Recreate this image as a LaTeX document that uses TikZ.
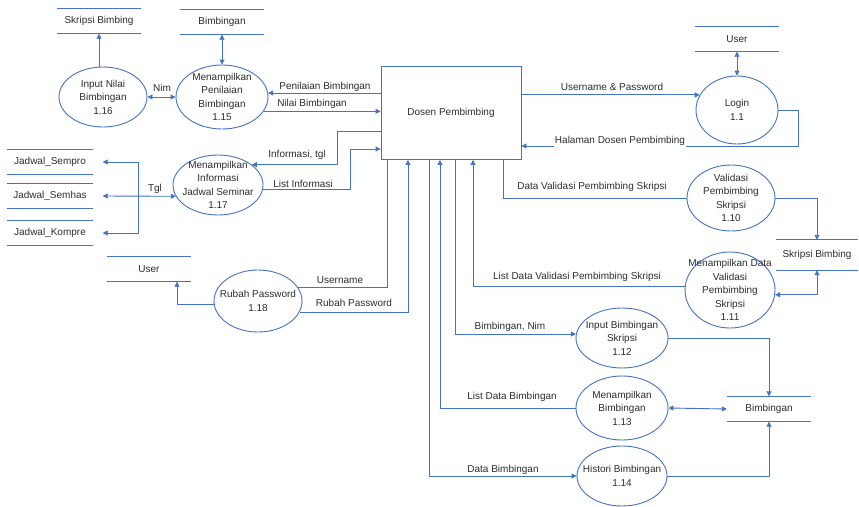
\documentclass[tikz,border=0pt]{standalone}
\usepackage{fontspec}
\setmainfont{Liberation Sans}
\usetikzlibrary{shapes.geometric}
\usetikzlibrary{arrows.meta}
\definecolor{dfdblue}{RGB}{68,114,196}
\definecolor{dfdtext}{RGB}{45,45,45}

\begin{document}
\begin{tikzpicture}[x=1pt, y=-1pt,
    flow/.style={draw=dfdblue, line width=0.9pt},
    arr/.style={flow, -{Triangle[width=5pt,length=5pt]}},
    darr/.style={flow, {Triangle[width=5pt,length=5pt]}-{Triangle[width=5pt,length=5pt]}},
    lbl/.style={font=\fontsize{10}{12}\selectfont, text=dfdtext, inner sep=1pt},
    ptext/.style={font=\fontsize{10}{13.5}\selectfont, text=dfdtext, align=center},
    proc/.style={draw=dfdblue, line width=0.9pt, ellipse, inner sep=0pt},
    store/.style={lbl, minimum width=84pt, minimum height=25pt, inner sep=0pt,
        append after command={(\tikzlastnode.north west) edge[flow] (\tikzlastnode.north east)
                              (\tikzlastnode.south west) edge[flow] (\tikzlastnode.south east)}}]

    \path[use as bounding box, fill=white] (0,0) rectangle (859,506);

    % entity
    \node[flow, lbl, minimum width=140pt, minimum height=93pt] (dosen) at (451,113) {Dosen Pembimbing};

    % data stores
    \node[store] (sSkripsiA) at (99,21) {Skripsi Bimbing};
    \node[store] (sBimA) at (222,22) {Bimbingan};
    \node[store] (sUserA) at (737,39) {User};
    \node[store, minimum width=85pt] (sSempro) at (50,162) {Jadwal\_Sempro};
    \node[store, minimum width=85pt] (sSemhas) at (50,196) {Jadwal\_Semhas};
    \node[store, minimum width=85pt] (sKompre) at (50,233) {Jadwal\_Kompre};
    \node[store] (sUserB) at (149,269) {User};
    \node[store, minimum width=82pt, minimum height=30pt] (sSkripsiB) at (817,255) {Skripsi Bimbing};
    \node[store] (sBimB) at (769,409) {Bimbingan};

    % processes
    \node[proc, minimum width=88pt, minimum height=60pt, label={[ptext]center:Input Nilai\\Bimbingan\\1.16}] (p116) at (103,97) {};
    \node[proc, minimum width=92pt, minimum height=64pt, label={[ptext]center:Menampilkan\\Penilaian\\Bimbingan\\1.15}] (p115) at (222,97) {};
    \node[proc, minimum width=90pt, minimum height=60pt, label={[ptext]center:Menampilkan\\Informasi\\Jadwal Seminar\\1.17}] (p117) at (218,185) {};
    \node[proc, minimum width=88pt, minimum height=62pt, label={[ptext]center:Rubah Password\\1.18}] (p118) at (258,301) {};
    \node[proc, minimum width=82pt, minimum height=68pt, label={[ptext]center:Login\\1.1}] (p11) at (737,110) {};
    \node[proc, minimum width=88pt, minimum height=66pt, label={[ptext]center:Validasi\\Pembimbing\\Skripsi\\1.10}] (p110) at (731,198) {};
    \node[proc, minimum width=90pt, minimum height=76pt, label={[ptext]center:Menampilkan Data\\Validasi\\Pembimbing\\Skripsi\\1.11}] (p111) at (730,290) {};
    \node[proc, minimum width=92pt, minimum height=60pt, label={[ptext]center:Input Bimbingan\\Skripsi\\1.12}] (p112) at (622,338) {};
    \node[proc, minimum width=92pt, minimum height=64pt, label={[ptext]center:Menampilkan\\Bimbingan\\1.13}] (p113) at (622,408) {};
    \node[proc, minimum width=90pt, minimum height=60pt, label={[ptext]center:Histori Bimbingan\\1.14}] (p114) at (622,476) {};

    % left flows
    \draw[darr] (p116.east) -- (p115.west);
    \draw[arr] (sSkripsiA.south |- p116.north) -- (sSkripsiA.south);
    \draw[darr] (sBimA.south) -- (sBimA.south |- p115.north);
    \draw[arr] (dosen.west |- p115.5) -- (p115.5);
    \draw[arr] (p115.-19) -- (dosen.west |- p115.-19);
    \draw[arr] (dosen.west |- 0,131) -- (337,131) |- (p117.31);
    \draw[arr] (p117.-6) -| (350,149) -- (dosen.west |- 0,149);
    \coordinate (tj) at (p117.195 -| 138,0);
    \draw[darr] ([xshift=10pt]sSemhas.east) -- (p117.195);
    \draw[arr] (tj) |- ([xshift=10pt]sSempro.east);
    \draw[arr] (tj) |- ([xshift=10pt]sKompre.east);
    \draw[arr] (p118.184) -| ([xshift=28pt]sUserB.south);
    \draw[flow] (p118.18) -| (dosen.south -| 387,0);
    \draw[arr] (p118.-15) -| (dosen.south -| 408,0);

    % right flows
    \draw[darr] (sUserA.south) -- (p11.north);
    \draw[arr] (dosen.east |- p11.158) -- (p11.158);
    \draw[arr] (p11.east) -| (798,146) -- (dosen.east |- 0,146);
    \draw[flow] (dosen.south -| 503,0) |- (p110.west);
    \draw[arr] (p110.east) -| (sSkripsiB.north);
    \draw[darr] (sSkripsiB.south) |- (p111.-6);
    \draw[arr] (p111.175) -| (dosen.south -| 473,0);
    \draw[arr] (dosen.south -| 455,0) |- (p112.175);
    \draw[arr] (p112.east) -| (sBimB.north);
    \draw[arr] (p113.west) -| (dosen.south -| 440,0);
    \draw[darr] (p113.east) -- (sBimB.west);
    \draw[arr] (dosen.south -| 429,0) |- (p114.west);
    \draw[arr] (p114.east) -| (sBimB.south);

    % flow labels
    \node[lbl] (lNim) at (162,88) {Nim};
    \node[lbl] (lPenilaian) at (325,87) {Penilaian Bimbingan};
    \node[lbl] (lNilai) at (312,104) {Nilai Bimbingan};
    \node[lbl] (lInfo) at (297,155) {Informasi, tgl};
    \node[lbl] (lListInfo) at (303,184) {List Informasi};
    \node[lbl] (lTgl) at (155,189) {Tgl};
    \node[lbl] (lUsername) at (340,280) {Username};
    \node[lbl] (lRubah) at (354,303) {Rubah Password};
    \node[lbl] (lUserPass) at (612,87) {Username \& Password};
    \node[lbl, fill=white] (lHalaman) at (620,141) {Halaman Dosen Pembimbing};
    \node[lbl] (lDataVal) at (592,187) {Data Validasi Pembimbing Skripsi};
    \node[lbl] (lListVal) at (577,277) {List Data Validasi Pembimbing Skripsi};
    \node[lbl] (lBimNim) at (510,327) {Bimbingan, Nim};
    \node[lbl] (lListBim) at (512,397) {List Data Bimbingan};
    \node[lbl] (lDataBim) at (503,470) {Data Bimbingan};

\end{tikzpicture}
\end{document}
